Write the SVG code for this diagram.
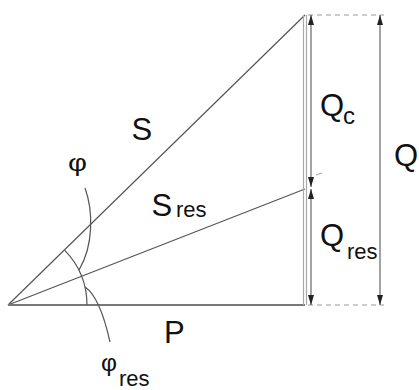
<svg xmlns="http://www.w3.org/2000/svg" width="419" height="390" viewBox="0 0 419 390">
<style>
.t{font-family:"Liberation Sans",Arial,sans-serif;fill:#111}
.m{font-size:31px}
.s{font-size:22px}
.f{font-size:24px}
.ln{stroke:#555;stroke-width:1.2;fill:none}
.lt{stroke:#aaa;stroke-width:1.2;fill:none}
.dim{stroke:#666;stroke-width:1.2;fill:none;marker-start:url(#ah);marker-end:url(#ah)}
.dash{stroke:#999;stroke-width:1.2;stroke-dasharray:5 4;fill:none}
</style>
<defs>
<marker id="ah" viewBox="0 0 10 6" refX="10" refY="3" markerWidth="10" markerHeight="6" markerUnits="userSpaceOnUse" orient="auto-start-reverse">
<path d="M0,0 L10,3 L0,6 z" fill="#222"/>
</marker>
</defs>
<g id="triangle">
<line class="ln" x1="8" y1="305" x2="305" y2="15"/>
<line class="ln" x1="8" y1="305" x2="305" y2="189"/>
<line x1="8" y1="305" x2="305" y2="305" stroke="#777" stroke-width="1.8"/>
<line class="lt" x1="303.5" y1="15" x2="303.5" y2="305"/>
<line class="lt" x1="306.5" y1="15" x2="306.5" y2="305"/>
<line class="lt" x1="316" y1="175" x2="322" y2="173"/>
</g>
<g id="angles">
<path class="ln" d="M64.8,250.3 A79,79 0 0 1 87,305"/>
<path class="ln" d="M85,188 C93,210 94,245 79,270"/>
<path class="ln" d="M85,287 Q100,297 110,342"/>
</g>
<g id="dimensions">
<line class="dash" x1="308" y1="15" x2="384" y2="15"/>
<line class="dash" x1="308" y1="305" x2="384" y2="305"/>
<line class="dim" x1="311" y1="15" x2="311" y2="187"/>
<line class="dim" x1="311" y1="189" x2="311" y2="305"/>
<line class="dim" x1="380" y1="15" x2="380" y2="305"/>
</g>
<g id="labels">
<text class="t m" x="131.5" y="140">S</text>
<text class="t m" x="151.5" y="216">S</text>
<text class="t s" x="176" y="217">res</text>
<text class="t m" x="164" y="343">P</text>
<text class="t m" x="320" y="116">Q</text>
<text class="t" style="font-size:24px" x="343" y="124">c</text>
<text class="t m" x="394" y="166">Q</text>
<text class="t m" x="320" y="246">Q</text>
<text class="t s" x="347" y="259">res</text>
<text class="t f" x="68" y="171" textLength="19" lengthAdjust="spacingAndGlyphs">φ</text>
<text class="t f" x="101" y="371" textLength="16" lengthAdjust="spacingAndGlyphs">φ</text>
<text class="t s" x="119" y="386">res</text>
</g>
</svg>
